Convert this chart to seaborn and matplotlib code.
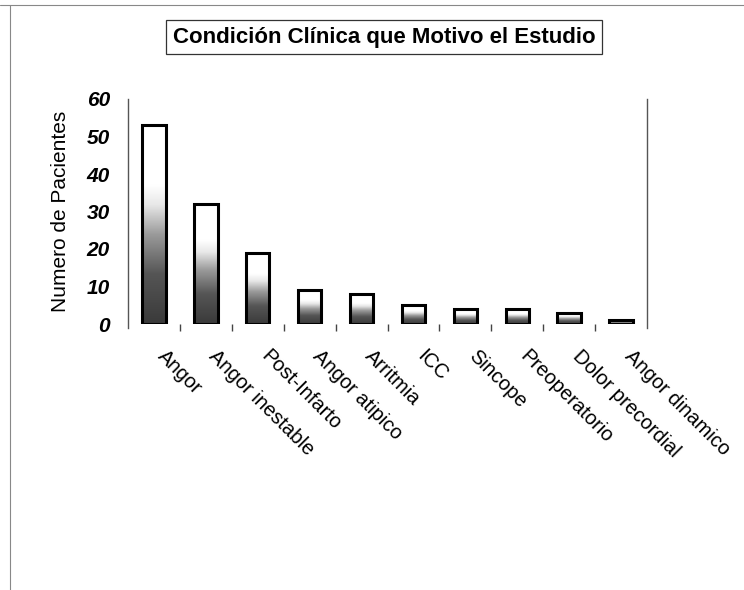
import numpy as np
import pandas as pd
import matplotlib
matplotlib.use("Agg")
import matplotlib.pyplot as plt
import matplotlib.transforms as mtransforms
from matplotlib.colors import LinearSegmentedColormap
from matplotlib.lines import Line2D
import seaborn as sns

# Clinical conditions and patient counts
condiciones = ["Angor", "Angor inestable", "Post-Infarto", "Angor atipico", "Arritmia",
               "ICC", "Sincope", "Preoperatorio", "Dolor precordial", "Angor dinamico"]
pacientes = [53, 32, 19, 9, 8, 5, 4, 4, 3, 1]
y_ticks = [0, 10, 20, 30, 40, 50, 60]

titulo = "Condición Clínica que Motivo el Estudio"
y_titulo = "Numero de Pacientes"

sns.set_theme(style="white")
plt.rcParams["font.family"] = ["Liberation Sans", "DejaVu Sans"]
plt.rcParams.update({"text.color": "black", "axes.labelcolor": "black",
                     "xtick.color": "black", "ytick.color": "black"})

df = pd.DataFrame({"condicion": condiciones, "pacientes": pacientes})

fig = plt.figure(figsize=(7.44, 5.90), dpi=100)
ax = fig.add_axes([128 / 744, 1 - 324 / 590, (647 - 128) / 744, (324 - 99) / 590])

sns.barplot(data=df, x="condicion", y="pacientes", ax=ax, width=0.45,
            color="white", edgecolor="black", linewidth=2.2, saturation=1)

# Shaded fill inside each bar: dark at the base fading to white
cmap = LinearSegmentedColormap.from_list(
    "shade", [(0.0, "#3a3a3a"), (0.25, "#555555"), (0.45, "#9a9a9a"),
              (0.6, "#e8e8e8"), (0.7, "#ffffff"), (1.0, "#ffffff")])
grad = np.linspace(0, 1, 256).reshape(-1, 1)
for patch in list(ax.patches):
    x0, y0 = patch.get_x(), patch.get_y()
    w, h = patch.get_width(), patch.get_height()
    im = ax.imshow(grad, cmap=cmap, aspect="auto", origin="lower",
                   extent=[x0, x0 + w, y0, y0 + h], zorder=patch.get_zorder() - 0.1,
                   interpolation="bilinear")
    im.set_clip_path(patch)
    patch.set_facecolor("none")

ax.set_xlim(-0.5, len(condiciones) - 0.5)
ax.set_ylim(0, 60)
ax.set_yticks(y_ticks)
ax.set_yticklabels([str(t) for t in y_ticks], fontsize=15, fontweight="bold",
                   fontstyle="italic")
ax.tick_params(axis="y", length=0, pad=13)

ax.set_xticks(range(len(condiciones)))
ax.set_xticklabels(condiciones, rotation=-45, ha="left", va="top",
                   rotation_mode="anchor", fontsize=14.5)
ax.tick_params(axis="x", which="major", length=0, pad=15)
ax.set_xticks(np.arange(0.5, len(condiciones) - 0.5, 1.0), minor=True)
ax.tick_params(axis="x", which="minor", length=5, width=1, color="#444444",
               direction="out", bottom=True)
shift = mtransforms.ScaledTranslation(13 / 100, -2 / 100, fig.dpi_scale_trans)
for lbl in ax.get_xticklabels():
    lbl.set_transform(lbl.get_transform() + shift)

ax.set_xlabel("")
ax.set_ylabel(y_titulo, fontsize=15, labelpad=12)

for side in ["top", "bottom"]:
    ax.spines[side].set_visible(False)
for side in ["left", "right"]:
    ax.spines[side].set_visible(True)
    ax.spines[side].set_color("#555555")
    ax.spines[side].set_linewidth(1.0)
    ax.spines[side].set_bounds(-1, 60)

fig.text(384 / 744, 1 - 37 / 590, titulo, ha="center", va="center",
         fontsize=16, fontweight="bold",
         bbox=dict(boxstyle="square,pad=0.3", fc="white", ec="#333333", lw=0.9))

# Page border lines
fig.add_artist(Line2D([0, 1], [1 - 5 / 590, 1 - 5 / 590], color="#888888", lw=0.8,
                      transform=fig.transFigure))
fig.add_artist(Line2D([10 / 744, 10 / 744], [0, 1 - 5 / 590], color="#888888", lw=0.8,
                      transform=fig.transFigure))

fig.savefig("out.png", dpi=100)
